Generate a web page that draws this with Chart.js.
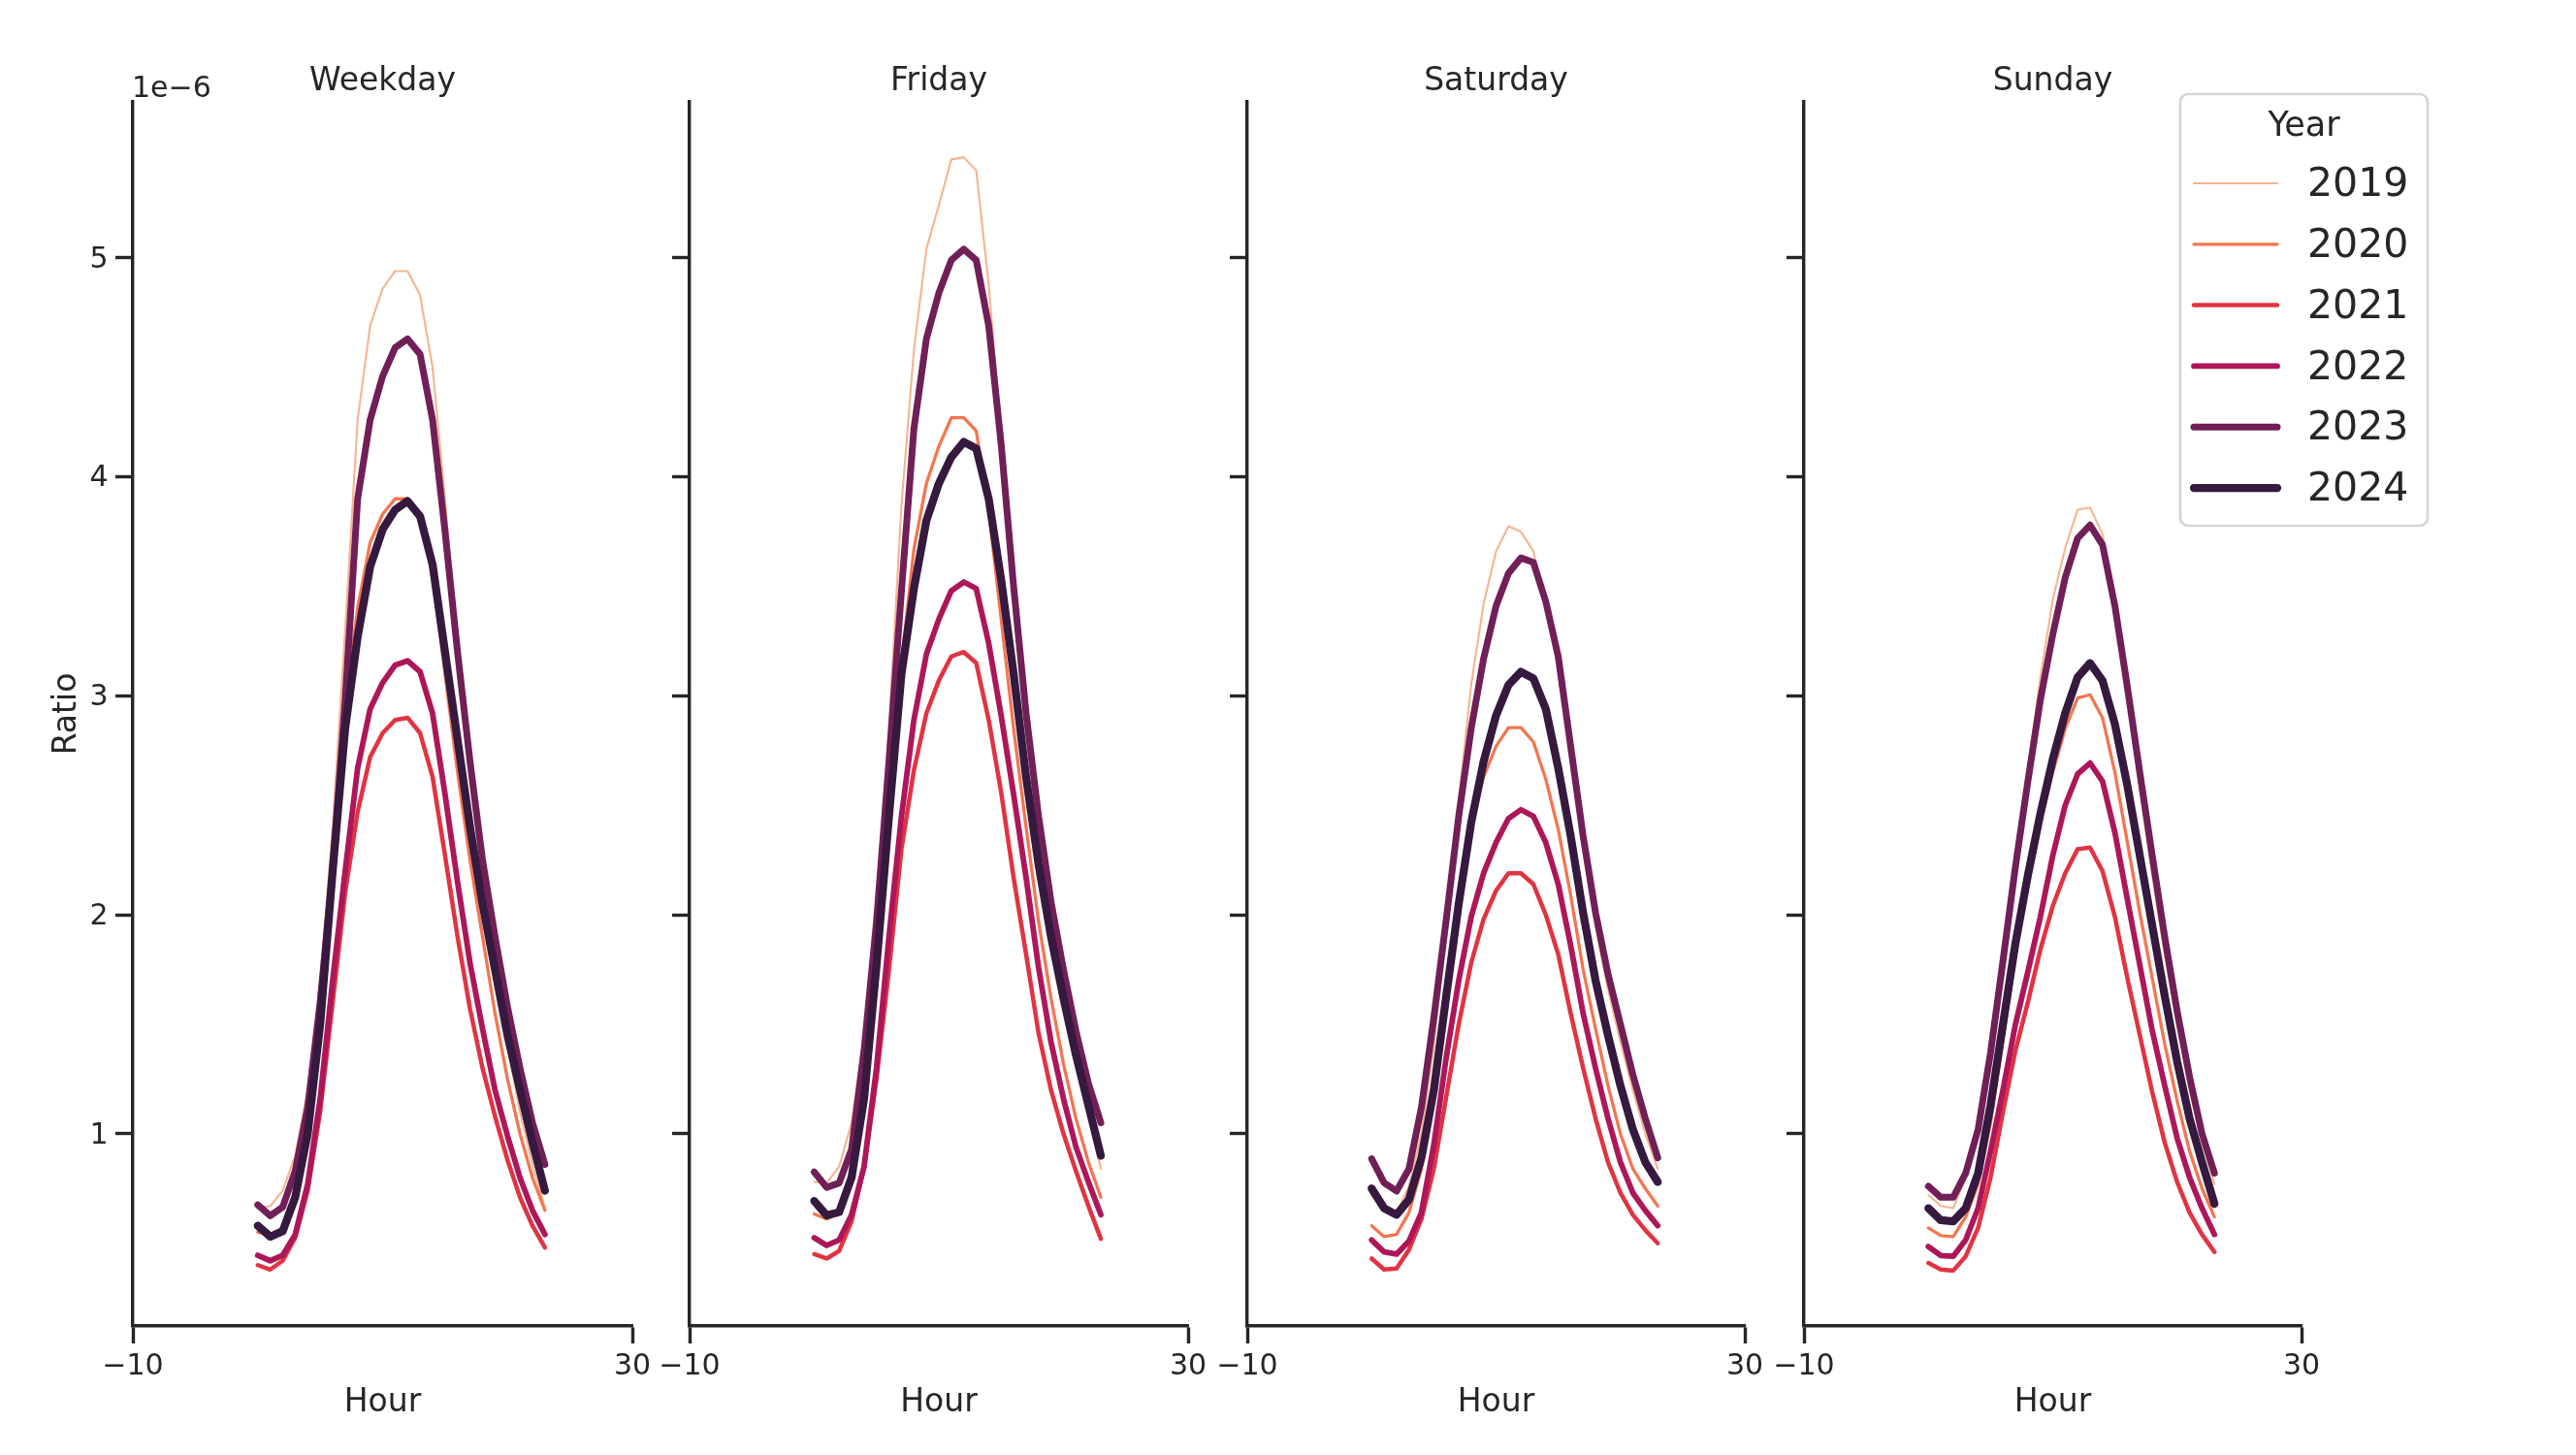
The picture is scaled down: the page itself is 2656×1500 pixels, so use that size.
<!DOCTYPE html>
<html>
<head>
<meta charset="utf-8">
<script src="https://cdn.jsdelivr.net/npm/chart.js@4.4.1/dist/chart.umd.min.js"></script>
<style>
html, body { margin:0; padding:0; background:#ffffff; width:2656px; height:1500px; overflow:hidden; }
canvas { position:absolute; left:0; top:0; }
</style>
</head>
<body>
<canvas id="c0" width="2656" height="1500"></canvas>
<canvas id="c1" width="2656" height="1500"></canvas>
<canvas id="c2" width="2656" height="1500"></canvas>
<canvas id="c3" width="2656" height="1500"></canvas>
<script>
// ---------------- data (values in units of 1e-6) ----------------
const hours = [0,1,2,3,4,5,6,7,8,9,10,11,12,13,14,15,16,17,18,19,20,21,22,23];
const years = ['2019','2020','2021','2022','2023','2024'];
const panelTitles = ['Weekday','Friday','Saturday','Sunday'];
const xTickValues = [-10, 30];
const yTickValues = [1, 2, 3, 4, 5];
const offsetLabel = '1e\u22126';
const xAxisTitle = 'Hour';
const yAxisTitle = 'Ratio';
const legendTitle = 'Year';

// rows: 2019, 2020, 2021, 2022, 2023, 2024
const weekdayValues = [
  [0.66,0.67,0.74,0.90,1.20,1.70,2.40,3.30,4.26,4.69,4.86,4.94,4.94,4.83,4.50,3.90,3.20,2.62,2.15,1.75,1.40,1.10,0.86,0.66],
  [0.55,0.54,0.57,0.72,1.02,1.52,2.25,2.95,3.40,3.70,3.83,3.90,3.90,3.82,3.55,3.10,2.65,2.25,1.90,1.55,1.25,1.00,0.80,0.65],
  [0.40,0.38,0.42,0.525,0.74,1.10,1.60,2.10,2.47,2.72,2.83,2.89,2.90,2.83,2.63,2.27,1.90,1.57,1.30,1.08,0.88,0.71,0.58,0.48],
  [0.445,0.42,0.445,0.54,0.77,1.16,1.70,2.20,2.67,2.94,3.06,3.14,3.16,3.11,2.92,2.55,2.15,1.78,1.48,1.20,0.99,0.80,0.65,0.54],
  [0.675,0.625,0.665,0.83,1.12,1.60,2.20,2.98,3.90,4.26,4.46,4.59,4.63,4.56,4.26,3.75,3.20,2.70,2.25,1.90,1.58,1.30,1.05,0.86],
  [0.58,0.53,0.555,0.71,1.00,1.50,2.20,2.85,3.27,3.59,3.76,3.85,3.89,3.82,3.60,3.20,2.80,2.40,2.05,1.75,1.45,1.20,0.96,0.74]
];
const fridayValues = [
  [0.78,0.775,0.85,1.05,1.45,2.05,2.85,3.87,4.58,5.04,5.24,5.45,5.46,5.40,4.88,4.20,3.55,3.00,2.48,2.05,1.72,1.42,1.12,0.84],
  [0.634,0.61,0.64,0.78,1.10,1.70,2.45,3.15,3.67,3.97,4.14,4.27,4.27,4.21,3.85,3.35,2.85,2.40,1.97,1.62,1.32,1.07,0.87,0.71],
  [0.45,0.43,0.465,0.60,0.85,1.25,1.75,2.30,2.66,2.92,3.07,3.18,3.20,3.15,2.89,2.56,2.17,1.82,1.46,1.20,1.00,0.83,0.67,0.52],
  [0.525,0.49,0.515,0.63,0.85,1.30,1.90,2.45,2.89,3.19,3.35,3.48,3.52,3.49,3.24,2.91,2.55,2.17,1.76,1.42,1.16,0.94,0.78,0.63],
  [0.825,0.755,0.775,0.93,1.38,1.97,2.70,3.48,4.22,4.63,4.84,4.99,5.04,4.99,4.69,4.15,3.50,2.92,2.45,2.06,1.75,1.47,1.23,1.05],
  [0.693,0.627,0.642,0.80,1.16,1.77,2.45,3.10,3.49,3.80,3.97,4.09,4.16,4.13,3.90,3.53,3.10,2.63,2.23,1.90,1.62,1.36,1.13,0.90]
];
const saturdayValues = [
  [0.72,0.65,0.64,0.76,1.00,1.40,1.95,2.52,3.05,3.42,3.66,3.775,3.75,3.66,3.42,3.12,2.72,2.30,1.95,1.66,1.42,1.20,1.00,0.84],
  [0.58,0.53,0.54,0.64,0.84,1.17,1.60,2.04,2.40,2.63,2.77,2.855,2.855,2.79,2.62,2.39,2.09,1.75,1.48,1.22,1.00,0.84,0.75,0.67],
  [0.43,0.38,0.385,0.47,0.61,0.84,1.17,1.50,1.78,1.98,2.11,2.19,2.19,2.14,2.00,1.82,1.55,1.30,1.07,0.87,0.73,0.63,0.56,0.50],
  [0.515,0.46,0.45,0.51,0.64,0.95,1.35,1.70,1.99,2.19,2.33,2.44,2.48,2.45,2.33,2.14,1.86,1.55,1.30,1.07,0.87,0.73,0.65,0.58],
  [0.886,0.776,0.738,0.84,1.12,1.53,1.98,2.45,2.85,3.17,3.41,3.56,3.63,3.61,3.43,3.18,2.77,2.36,2.01,1.73,1.50,1.27,1.07,0.89],
  [0.75,0.66,0.63,0.70,0.89,1.20,1.63,2.05,2.42,2.70,2.91,3.05,3.11,3.08,2.94,2.67,2.36,2.01,1.70,1.45,1.22,1.02,0.87,0.78]
];
const sundayValues = [
  [0.72,0.67,0.66,0.80,1.05,1.40,1.82,2.25,2.66,3.08,3.44,3.675,3.85,3.86,3.74,3.40,3.00,2.58,2.18,1.82,1.50,1.20,0.96,0.77],
  [0.57,0.535,0.53,0.62,0.77,1.05,1.43,1.83,2.15,2.42,2.65,2.85,2.99,3.005,2.90,2.65,2.33,2.01,1.71,1.41,1.15,0.92,0.75,0.62],
  [0.41,0.38,0.375,0.44,0.57,0.80,1.10,1.38,1.60,1.84,2.04,2.19,2.30,2.307,2.20,1.99,1.71,1.45,1.19,0.96,0.78,0.64,0.54,0.46],
  [0.485,0.444,0.44,0.515,0.66,0.92,1.20,1.50,1.74,1.99,2.27,2.50,2.643,2.693,2.61,2.375,2.07,1.77,1.47,1.22,0.98,0.80,0.66,0.54],
  [0.76,0.71,0.71,0.82,1.02,1.37,1.79,2.22,2.61,2.98,3.28,3.54,3.72,3.78,3.69,3.41,3.04,2.65,2.27,1.90,1.56,1.26,1.00,0.82],
  [0.66,0.605,0.60,0.66,0.82,1.13,1.50,1.87,2.18,2.46,2.71,2.92,3.085,3.15,3.07,2.87,2.59,2.27,1.95,1.63,1.33,1.07,0.87,0.68]
];
const panelValues = [weekdayValues, fridayValues, saturdayValues, sundayValues];

// ---------------- style ----------------
const FONT = "'DejaVu Sans', sans-serif";
const INK = '#262626';
const lineColors = ['#f6b48f','#f37651','#e13342','#ad1759','#701f57','#35193e'];
const lineWidths = [2.1, 3.3, 4.5, 5.8, 7.0, 8.25];
const AREA_LEFT = [137, 711, 1286, 1860];
const AREA_RIGHT = [652, 1225, 1799, 2373];
const AREA_TOP = 105, AREA_BOTTOM = 1367;
const TICK_LEN = 18, AXIS_W = 3.4;
const X_AXIS_H = 99.6;
const Y_AXIS_W_FIRST = 87.6;
const Y_MIN = 0.122, Y_MAX = 5.713;
const TITLE_TOP = 64.9;

Chart.defaults.font.family = FONT;
Chart.defaults.color = INK;

function fmtTick(v) {
  return v < 0 ? '\u2212' + Math.abs(v) : String(v);
}

const offsetTextPlugin = {
  id: 'offsetText',
  afterDraw(chart) {
    const ctx = chart.ctx;
    ctx.save();
    ctx.fillStyle = INK;
    ctx.font = '30px ' + FONT;
    ctx.textAlign = 'left';
    ctx.textBaseline = 'alphabetic';
    ctx.fillText(offsetLabel, chart.chartArea.left - 1, 100);
    ctx.restore();
  }
};

const legendPlugin = {
  id: 'yearLegend',
  afterDraw(chart) {
    const ctx = chart.ctx;
    const bx = 2248, by = 97, bw = 255, bh = 445, r = 8;
    ctx.save();
    ctx.beginPath();
    ctx.moveTo(bx + r, by);
    ctx.lineTo(bx + bw - r, by);
    ctx.arcTo(bx + bw, by, bx + bw, by + r, r);
    ctx.lineTo(bx + bw, by + bh - r);
    ctx.arcTo(bx + bw, by + bh, bx + bw - r, by + bh, r);
    ctx.lineTo(bx + r, by + bh);
    ctx.arcTo(bx, by + bh, bx, by + bh - r, r);
    ctx.lineTo(bx, by + r);
    ctx.arcTo(bx, by, bx + r, by, r);
    ctx.closePath();
    ctx.fillStyle = 'rgba(255,255,255,0.85)';
    ctx.fill();
    ctx.strokeStyle = '#d6d6d6';
    ctx.lineWidth = 2.7;
    ctx.stroke();

    ctx.fillStyle = INK;
    ctx.font = '35px ' + FONT;
    ctx.textAlign = 'center';
    ctx.textBaseline = 'middle';
    ctx.fillText(legendTitle, 2375.5, 131);

    const datasets = chart.data.datasets;
    years.forEach((yr, k) => {
      const ds = datasets.find(d => d.label === yr);
      const y = 189 + 62.8 * k;
      ctx.beginPath();
      ctx.moveTo(2262, y);
      ctx.lineTo(2348, y);
      ctx.strokeStyle = ds.borderColor;
      ctx.lineWidth = ds.borderWidth;
      ctx.lineCap = 'round';
      ctx.stroke();
      ctx.fillStyle = INK;
      ctx.font = '41px ' + FONT;
      ctx.textAlign = 'left';
      ctx.textBaseline = 'middle';
      ctx.fillText(yr, 2379, y + 2.5);
    });
    ctx.restore();
  }
};

function makeChart(i) {
  const first = i === 0;
  const yW = first ? Y_AXIS_W_FIRST : TICK_LEN;
  const datasets = years.map((yr, k) => ({
    label: yr,
    data: hours.map((h, j) => ({ x: h, y: panelValues[i][k][j] })),
    borderColor: lineColors[k],
    backgroundColor: lineColors[k],
    borderWidth: lineWidths[k],
    pointRadius: 0,
    pointHoverRadius: 0,
    tension: 0,
    fill: false,
    borderCapStyle: 'round',
    borderJoinStyle: 'round',
    order: years.length - k
  }));
  const plugins = [];
  if (first) plugins.push(offsetTextPlugin);
  if (i === 3) plugins.push(legendPlugin);

  return new Chart(document.getElementById('c' + i), {
    type: 'line',
    data: { datasets },
    options: {
      responsive: false,
      maintainAspectRatio: false,
      animation: false,
      devicePixelRatio: 1,
      events: [],
      layout: {
        padding: {
          left: AREA_LEFT[i] - yW,
          right: 2656 - AREA_RIGHT[i],
          top: TITLE_TOP,
          bottom: 1500 - AREA_BOTTOM - X_AXIS_H
        }
      },
      plugins: {
        legend: { display: false },
        tooltip: { enabled: false },
        title: {
          display: true,
          text: panelTitles[i],
          fullSize: false,
          color: INK,
          font: { size: 33, weight: 'normal', family: FONT, lineHeight: 1.2 },
          padding: { top: 0, bottom: AREA_TOP - TITLE_TOP - 39.6 }
        }
      },
      scales: {
        x: {
          type: 'linear',
          min: -10,
          max: 30,
          bounds: 'data',
          afterBuildTicks: s => { s.ticks = xTickValues.map(v => ({ value: v })); },
          afterFit: s => { s.height = X_AXIS_H; },
          grid: { display: true, drawOnChartArea: false, drawTicks: true, tickLength: TICK_LEN, tickWidth: AXIS_W, tickColor: INK },
          border: { display: true, color: INK, width: AXIS_W },
          ticks: { color: INK, font: { size: 30, family: FONT }, padding: 6.1, maxRotation: 0, autoSkip: false, callback: v => fmtTick(v) },
          title: { display: true, text: xAxisTitle, color: INK, font: { size: 33, family: FONT, lineHeight: 1.2 }, padding: 0 }
        },
        y: {
          type: 'linear',
          min: Y_MIN,
          max: Y_MAX,
          bounds: 'data',
          afterBuildTicks: s => { s.ticks = yTickValues.map(v => ({ value: v })); },
          afterFit: s => { s.width = yW; },
          grid: { display: true, drawOnChartArea: false, drawTicks: true, tickLength: TICK_LEN, tickWidth: AXIS_W, tickColor: INK },
          border: { display: true, color: INK, width: AXIS_W },
          ticks: { display: first, color: INK, font: { size: 30, family: FONT }, padding: 7.5, labelOffset: 2, autoSkip: false, callback: v => fmtTick(v) },
          title: { display: first, text: yAxisTitle, color: INK, font: { size: 33, family: FONT, lineHeight: 1.2 }, padding: 0 }
        }
      }
    },
    plugins
  });
}

for (let i = 0; i < 4; i++) makeChart(i);
</script>
</body>
</html>
